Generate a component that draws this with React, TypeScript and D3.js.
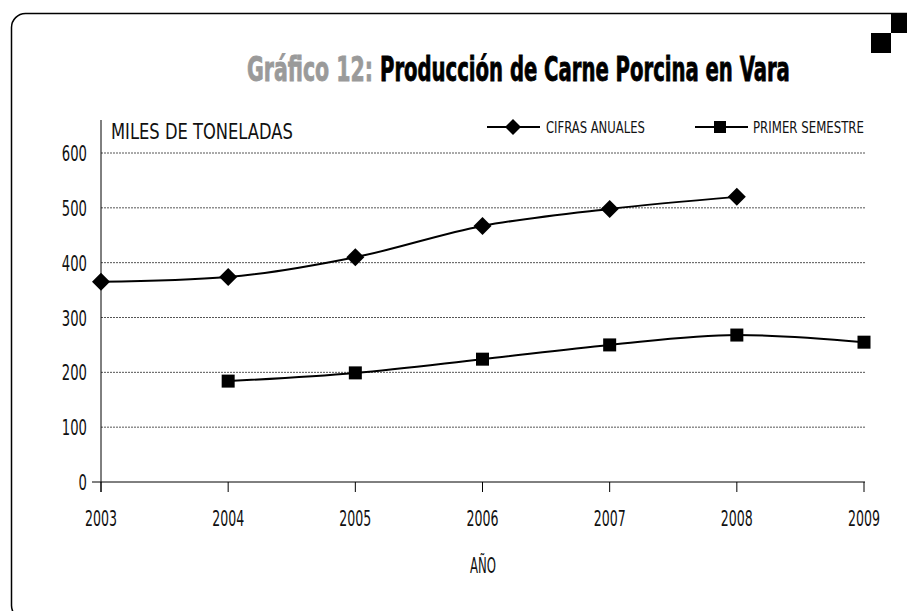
import React, { useLayoutEffect, useRef, useState } from "react";
import * as d3 from "d3";

const years = [2003, 2004, 2005, 2006, 2007, 2008, 2009];
const yTicks = [0, 100, 200, 300, 400, 500, 600];
const anualYears = [2003, 2004, 2005, 2006, 2007, 2008];
const anualValues = [365, 374, 410, 467, 498, 520];
const semYears = [2004, 2005, 2006, 2007, 2008, 2009];
const semValues = [184, 199, 224, 250, 268, 255];

const W = 907;
const H = 611;
const FONT = "'DejaVu Sans Condensed', 'Liberation Sans Narrow', 'Liberation Sans', sans-serif";

function FitText(props: any) {
  const { children, len, x, y, ...rest } = props;
  const ref = useRef<SVGTextElement>(null);
  const [s, setS] = useState(1);
  useLayoutEffect(() => {
    if (ref.current) {
      const w = ref.current.getComputedTextLength();
      if (w > 0) setS(len / w);
    }
  }, [len, children]);
  return (
    <text
      ref={ref}
      x={0}
      y={0}
      fontFamily={FONT}
      fill="#111"
      transform={`translate(${x},${y}) scale(${s},1)`}
      {...rest}
    >
      {children}
    </text>
  );
}

export default function App() {
  const x = d3.scaleLinear().domain([2003, 2009]).range([101, 864]);
  const y = d3.scaleLinear().domain([0, 600]).range([482, 153]);
  const line = d3
    .line<[number, number]>()
    .x((d) => x(d[0]))
    .y((d) => y(d[1]))
    .curve(d3.curveMonotoneX);
  const anual = anualYears.map((yr, i) => [yr, anualValues[i]] as [number, number]);
  const sem = semYears.map((yr, i) => [yr, semValues[i]] as [number, number]);

  const diamond = (cx: number, cy: number, r: number) =>
    `M${cx},${cy - r}L${cx + r},${cy}L${cx},${cy + r}L${cx - r},${cy}Z`;

  return (
    <svg
      width={W}
      height={H}
      style={{ position: "absolute", left: 0, top: 0, background: "#fff" }}
    >
      {/* frame */}
      <rect x={11.5} y={13.5} width={1000} height={606} rx={14} ry={14} fill="none" stroke="#000" strokeWidth={1.5} />
      <rect x={891} y={13} width={16} height={20} fill="#000" />
      <rect x={871} y={33} width={20} height={20} fill="#000" />

      {/* title */}
      <FitText x={247} y={81} fontWeight="bold" fontSize={33} len={126} fill="#9a9a9a" stroke="#9a9a9a" strokeWidth={0.8}>
        Gráfico 12:
      </FitText>
      <FitText x={380} y={81} fontWeight="bold" fontSize={33} len={410} fill="#000" stroke="#000" strokeWidth={0.8}>
        Producción de Carne Porcina en Vara
      </FitText>

      {/* gridlines */}
      {yTicks.filter((t) => t > 0).map((t) => (
        <line
          key={t}
          x1={101}
          x2={865}
          y1={y(t)}
          y2={y(t)}
          stroke="#555"
          strokeWidth={1}
          strokeDasharray="2,1"
        />
      ))}

      {/* axes */}
      <line x1={101} x2={101} y1={120} y2={492} stroke="#000" strokeWidth={1} />
      <line x1={92} x2={865} y1={y(0)} y2={y(0)} stroke="#000" strokeWidth={1} />
      {years.map((yr) => (
        <line key={yr} x1={x(yr)} x2={x(yr)} y1={y(0)} y2={y(0) + 10} stroke="#000" strokeWidth={1} />
      ))}
      {yTicks.map((t) => (
        <FitText key={t} x={87} y={y(t) + 8} textAnchor="end" fontSize={22} len={String(t).length * 8.4}>
          {t}
        </FitText>
      ))}
      {years.map((yr) => (
        <FitText key={yr} x={x(yr)} y={526} textAnchor="middle" fontSize={22} len={32}>
          {yr}
        </FitText>
      ))}
      <FitText x={111} y={139} fontSize={22} len={182}>
        MILES DE TONELADAS
      </FitText>
      <FitText x={483} y={573} textAnchor="middle" fontSize={22} len={26}>
        AÑO
      </FitText>

      {/* legend */}
      <line x1={487} x2={540} y1={127} y2={127} stroke="#000" strokeWidth={2} />
      <path d={diamond(513, 127, 8)} fill="#000" />
      <FitText x={546} y={133} fontSize={16} len={99}>
        CIFRAS ANUALES
      </FitText>
      <line x1={695} x2={748} y1={127} y2={127} stroke="#000" strokeWidth={2} />
      <rect x={714} y={121} width={12} height={12} fill="#000" />
      <FitText x={753} y={133} fontSize={16} len={111}>
        PRIMER SEMESTRE
      </FitText>

      {/* series */}
      <path d={line(anual) || ""} fill="none" stroke="#000" strokeWidth={2} />
      <path d={line(sem) || ""} fill="none" stroke="#000" strokeWidth={2} />
      {anual.map((d) => (
        <path key={d[0]} d={diamond(x(d[0]), y(d[1]), 9)} fill="#000" />
      ))}
      {sem.map((d) => (
        <rect key={d[0]} x={x(d[0]) - 6.5} y={y(d[1]) - 6.5} width={13} height={13} fill="#000" />
      ))}
    </svg>
  );
}
